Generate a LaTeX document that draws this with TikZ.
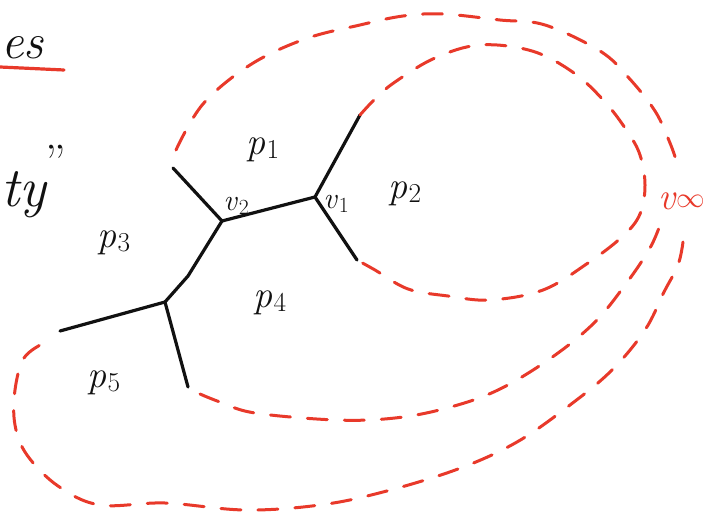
\documentclass[tikz,border=0pt]{standalone}
\usepackage{tikz}
\usetikzlibrary{positioning,calc}
\usepackage{xcolor}
\definecolor{Ink}{HTML}{111111}
\definecolor{Pen}{HTML}{E8392A}
\newcommand\idx[2]{\textit{#1}\kern1pt\raisebox{-0.25ex}{\scalebox{0.72}{#2}}}
\tikzset{
 edge/.style={draw=Ink, line width=3.2pt, line cap=round},
 ray/.style={draw=Pen, line width=3pt, line cap=round, dash pattern=on 20pt off 17pt},
 lbl/.style={font=\fontsize{38}{40}\selectfont, inner sep=0pt, text=Ink},
 vlbl/.style={font=\fontsize{30}{32}\selectfont, inner sep=0pt, text=Ink}
}

\begin{document}
\begin{tikzpicture}[x=1pt,y=-1pt]
\useasboundingbox (0,0) rectangle (709,518);
% heading scraps at the left edge
\node[lbl,font=\fontsize{50}{52}\selectfont\itshape,anchor=west] (head) at (1,48) {es};
\draw[draw=Pen,line width=3.2pt,line cap=round] (0,67) -- (64,70);
\node[lbl,font=\fontsize{56}{58}\selectfont\itshape,anchor=west] (word) at (1,195) {ty};
\node[lbl,font=\fontsize{48}{50}\selectfont] (quote) at (56,162) {''};
% vertices and free ends
\coordinate (v1) at (315,197);
\coordinate (v2) at (222,221);
\coordinate (v3) at (165,302);
\coordinate (bend) at (188,276);
\coordinate (e1) at (360,115);
\coordinate (e2) at (357,260);
\coordinate (e3) at (173,168);
\coordinate (e4) at (60,331);
\coordinate (e5) at (188,387);
\draw[edge] (e1) -- (v1) -- (e2);
\draw[edge] (v1) -- (v2) -- (e3);
\draw[edge] (v2) -- (bend) -- (v3);
\draw[edge] (e4) -- (v3) -- (e5);
% labels
\node[vlbl] (l1) at (336,204) {\idx{v}{1}};
\node[vlbl] (l2) at (236,206) {\idx{v}{2}};
\node[lbl] (p1) at (263,150) {\idx{p}{1}};
\node[lbl] (p2) at (405,194) {\idx{p}{2}};
\node[lbl] (p3) at (114,243) {\idx{p}{3}};
\node[lbl] (p4) at (270,303) {\idx{p}{4}};
\node[lbl] (p5) at (104,383) {\idx{p}{5}};
\node[lbl,font=\fontsize{38}{40}\selectfont,text=Pen] (vinf) at (682,201) {\textit{v}\raisebox{0.1ex}{\scalebox{1.15}{$\infty$}}};
% rays to infinity
\draw[ray] plot[smooth,tension=0.6] coordinates {(e1) (375,99) (395,82) (435,58) (480,45) (532,51) (574,73) (605,102) (627,131) (640,155) (645,185) (640,214) (623,236) (588,263) (543,290) (490,300) (448,296) (408,289) (375,270) (e2)};
\draw[ray] plot[smooth,tension=0.6] coordinates {(176,150) (203,104) (250,65) (305,39) (360,25) (403,16) (443,14) (500,20) (545,25) (600,51) (628,77) (655,111) (670,143) (677,163)};
\draw[ray] plot[smooth,tension=0.6] coordinates {(683,242) (678,265) (664,292) (645,330) (612,370) (570,405) (517,442) (458,469) (383,492) (320,505) (245,510) (165,503) (100,505) (58,486) (27,455) (15,425) (15,390) (24,358) (44,343)};
\draw[ray] plot[smooth,tension=0.6] coordinates {(200,394) (220,402) (255,413) (336,420) (395,418) (447,408) (498,390) (551,358) (595,322) (628,281) (650,248) (660,225)};
\end{tikzpicture}
\end{document}
